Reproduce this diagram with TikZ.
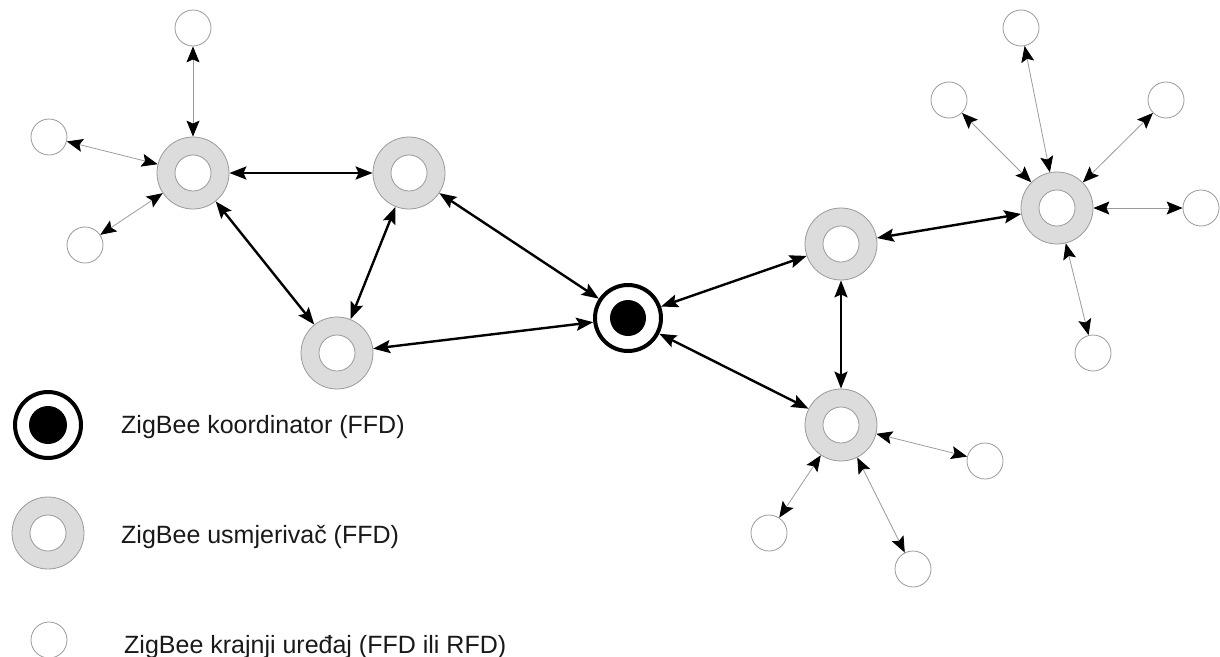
\documentclass[tikz,border=0pt]{standalone}
\usepackage{fontspec}
\setmainfont{Liberation Sans}
\usetikzlibrary{arrows.meta}
\definecolor{ringfill}{HTML}{DCDCDC}
\definecolor{ringline}{HTML}{9A9A9A}
\begin{document}
\begin{tikzpicture}[x=1pt,y=-1pt,
  router/.style={circle,inner sep=0pt,minimum size=72pt,fill=ringfill,draw=ringline,line width=0.8pt},
  coord/.style={circle,inner sep=0pt,minimum size=66pt,fill=white,draw=black,line width=4pt},
  enddev/.style={circle,inner sep=0pt,minimum size=36pt,fill=white,draw=ringline,line width=0.8pt},
  thick link/.style={{Stealth[length=17pt,width=13pt,inset=3pt,color=black]}-{Stealth[length=17pt,width=13pt,inset=3pt,color=black]},line width=2.4pt,black},
  thin link/.style={{Stealth[length=16pt,width=13pt,inset=3pt,color=black]}-{Stealth[length=16pt,width=13pt,inset=3pt,color=black]},line width=0.8pt,ringline},
  legtext/.style={anchor=base west,inner sep=0pt,font=\fontsize{25}{30}\selectfont,text=black!90}]
\useasboundingbox (0,0) rectangle (1220,656);
% routers
\node[router] (R1) at (193,173) {};
\node[router] (R2) at (409,173) {};
\node[router] (R3) at (337,353) {};
\node[router] (R4) at (841,244) {};
\node[router] (R5) at (1057,208) {};
\node[router] (R6) at (841,425) {};
\node[router] (LR) at (48,533) {};
\foreach \n in {R1,R2,R3,R4,R5,R6,LR}
  \draw[fill=white,draw=ringline,line width=0.8pt] (\n.center) circle (18);
% coordinator
\node[coord] (C) at (628,318) {};
\fill[black] (C.center) circle (18);
\node[coord] (LC) at (48,425) {};
\fill[black] (LC.center) circle (19);
% end devices
\node[enddev] (E1) at (193,28) {};
\node[enddev] (E2) at (49,137) {};
\node[enddev] (E3) at (85,245) {};
\node[enddev] (E4) at (1021,28) {};
\node[enddev] (E5) at (949,100) {};
\node[enddev] (E6) at (1166,100) {};
\node[enddev] (E7) at (1201,208) {};
\node[enddev] (E8) at (1093,353) {};
\node[enddev] (E9) at (985,461) {};
\node[enddev] (E10) at (769,533) {};
\node[enddev] (E11) at (913,569) {};
\node[enddev] (LE) at (49,640) {};
% thick links
\draw[thick link] (R1) -- (R2);
\draw[thick link] (R1) -- (R3);
\draw[thick link] (R2) -- (R3);
\draw[thick link] (R2) -- (C);
\draw[thick link] (R3) -- (C);
\draw[thick link] (C) -- (R4);
\draw[thick link] (C) -- (R6);
\draw[thick link] (R4) -- (R6);
\draw[thick link] (R4) -- (R5);
% thin links
\draw[thin link] (R1) -- (E1);
\draw[thin link] (R1) -- (E2);
\draw[thin link] (R1) -- (E3);
\draw[thin link] (R5) -- (E4);
\draw[thin link] (R5) -- (E5);
\draw[thin link] (R5) -- (E6);
\draw[thin link] (R5) -- (E7);
\draw[thin link] (R5) -- (E8);
\draw[thin link] (R6) -- (E9);
\draw[thin link] (R6) -- (E10);
\draw[thin link] (R6) -- (E11);
% legend texts
\node[legtext] (T1) at (121,433) {ZigBee koordinator (FFD)};
\node[legtext] (T2) at (121,543) {ZigBee usmjeriva\v{c} (FFD)};
\node[legtext] (T3) at (124,653) {ZigBee krajnji uređaj (FFD ili RFD)};
\end{tikzpicture}
\end{document}
